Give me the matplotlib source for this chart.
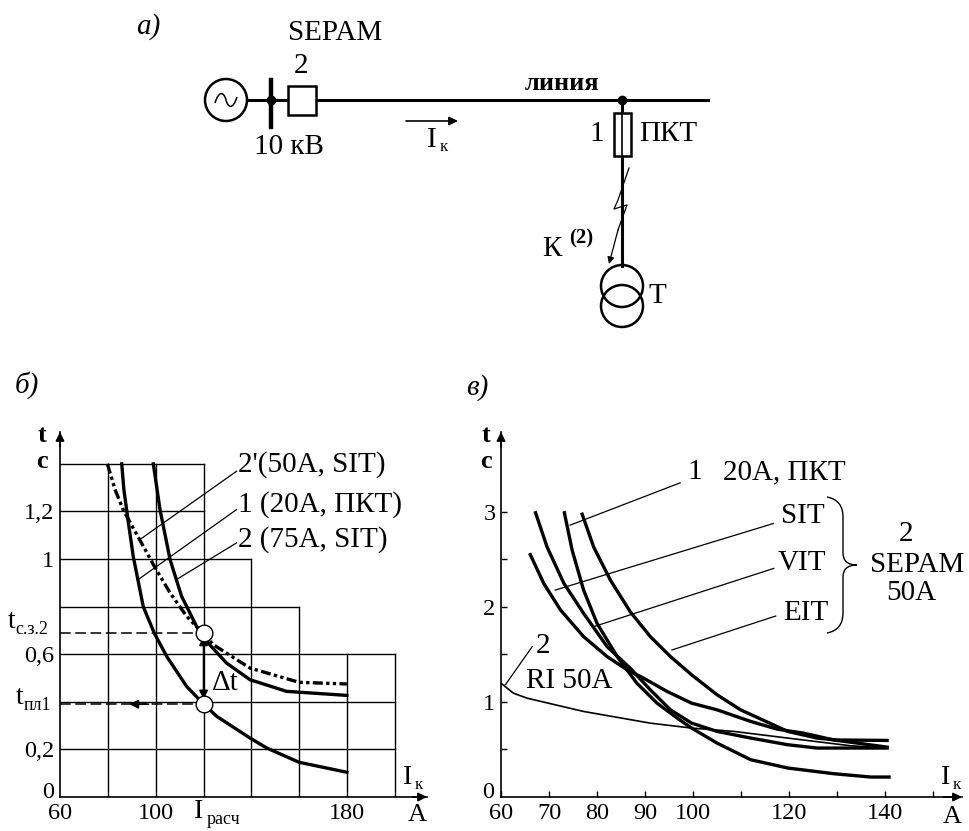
"""Fuse / SEPAM relay coordination: schematic a) and time-current curves b), c)
"""

from matplotlib import pyplot as plt
from matplotlib.patches import Circle, Rectangle, PathPatch
from matplotlib.path import Path

plt.rcParams['font.family'] = ['Liberation Serif', 'DejaVu Serif']

W, H = 969, 831

# chart b) grid, each line runs up to a stepped limit
b_vlines_x = [80, 100, 120, 140, 160, 180, 200]
b_vlines_top = [1.4, 1.4, 1.4, 1.0, 0.8, 0.6, 0.6]
b_hlines_y = [0.2, 0.4, 0.6, 0.8, 1.0, 1.2, 1.4]
b_hlines_end = [200, 200, 200, 160, 140, 120, 120]

# chart b) curves, current in A, time in s
b2_i = [85.8, 86.7, 88.6, 90.6, 94.8, 99.4, 104.6, 112.9, 119.6, 125.5, 139.4, 146.4, 159.9, 179.9]
b2_t = [1.40, 1.292, 1.152, 1.012, 0.80, 0.689, 0.591, 0.465, 0.395, 0.339, 0.248, 0.206, 0.146, 0.104]
b2p_i = [79.8, 83, 86.5, 94.8, 99.4, 106, 112.9, 119.6, 124.1, 139.4, 159.9, 179.9]
b2p_t = [1.40, 1.292, 1.205, 1.054, 0.97, 0.858, 0.76, 0.689, 0.64, 0.542, 0.482, 0.475]
b1_i = [99, 101.8, 106, 110.8, 117.1, 121.3, 129.6, 139.4, 154.7, 179.9]
b1_t = [1.40, 1.208, 0.998, 0.844, 0.717, 0.654, 0.563, 0.493, 0.444, 0.427]

i_calc = 120
t_relay = 0.69
t_fuse = 0.39

# chart c) curves
c1_i = [76.9, 79.3, 82.8, 86.9, 91.1, 95.3, 99.7, 105, 109.9, 119.7, 125.8, 129.8, 140.4]
c1_t = [2.975, 2.63, 2.28, 1.95, 1.687, 1.477, 1.285, 1.075, 0.917, 0.69, 0.62, 0.60, 0.595]
sit_i = [66.1, 68.9, 72.4, 77.2, 82.1, 86.3, 89.7, 94.6, 99.7, 105, 112, 117.5, 123, 129.3, 140.4]
sit_t = [2.55, 2.247, 1.967, 1.687, 1.477, 1.337, 1.25, 1.11, 0.987, 0.917, 0.795, 0.714, 0.672, 0.60, 0.525]
vit_i = [67.2, 69.6, 73.1, 77.2, 82.1, 86.9, 91.1, 95.3, 99.7, 105, 112, 119.7, 125.8, 140.4]
vit_t = [2.99, 2.63, 2.247, 1.932, 1.582, 1.355, 1.127, 0.917, 0.777, 0.69, 0.62, 0.55, 0.515, 0.515]
eit_i = [73.2, 74.8, 77.2, 80, 84.2, 88.3, 92.5, 96.7, 99.7, 105, 112, 119.7, 129.3, 137, 140.8]
eit_t = [2.99, 2.6, 2.177, 1.827, 1.477, 1.197, 0.987, 0.83, 0.725, 0.567, 0.392, 0.305, 0.245, 0.21, 0.21]
ri_i = [60, 62.6, 65.4, 77.2, 91.1, 99.7, 108.5, 119.7, 132.8, 140.4]
ri_t = [1.197, 1.092, 1.04, 0.9, 0.777, 0.725, 0.69, 0.62, 0.539, 0.515]

FS = 21
TICK_FS = 17.5
ARROW = dict(arrowstyle='-|>', color='black', lw=1.2, mutation_scale=13, shrinkA=0, shrinkB=0)


def px_axes(left, right, top, bottom):
    """Axes placed by its pixel box in the picture"""
    return fig.add_axes([left / W, 1 - bottom / H, (right - left) / W, (bottom - top) / H])


def leader(ax, i0, t0, i1, t1, lw=0.9):
    ax.plot([i0, i1], [t0, t1], color='black', lw=lw, zorder=2)


def arrow_px(x0, y0, x1, y1, **kw):
    style = dict(ARROW)
    style.update(kw)
    over.annotate('', xy=(x1, y1), xytext=(x0, y0), arrowprops=style)


def label(x, y, s, size=FS, ha='center', **kw):
    over.text(x, y, s, fontsize=size, ha=ha, va='center', **kw)


fig = plt.figure(figsize=(W / 100, H / 100), dpi=100, facecolor='white')

# chart b)
ax_b = px_axes(60, 427, 432, 797)
ax_b.set_xlim(60, 213.4)
ax_b.set_ylim(0, 1.534)
ax_b.patch.set_alpha(0)
for x, top in zip(b_vlines_x, b_vlines_top):
    ax_b.plot([x, x], [0, top], color='black', lw=1.0, zorder=1)
for y, end in zip(b_hlines_y, b_hlines_end):
    ax_b.plot([60, end], [y, y], color='black', lw=1.0, zorder=1)
ax_b.plot(b2_i, b2_t, color='black', lw=2.4, zorder=3)
ax_b.plot(b1_i, b1_t, color='black', lw=2.4, zorder=3)
ax_b.plot(b2p_i, b2p_t, color='black', lw=2.4, ls=(0, (3, 1, 1, 1, 1, 1)), zorder=3)
leader(ax_b, 93.4, 1.082, 133.8, 1.369)
leader(ax_b, 92.7, 0.914, 133.8, 1.208)
leader(ax_b, 108.7, 0.914, 133.8, 1.068)
ax_b.plot([60, i_calc], [t_relay, t_relay], color='black', lw=1.1, ls=(0, (7, 3)), zorder=2)
ax_b.plot([60, i_calc], [t_fuse, t_fuse], color='black', lw=1.1, ls=(0, (7, 3)), zorder=2)
ax_b.annotate('', xy=(89, t_fuse), xytext=(97, t_fuse), arrowprops=ARROW, zorder=4)
ax_b.annotate('', xy=(i_calc, t_relay - 0.015), xytext=(i_calc, t_fuse + 0.02),
              arrowprops=dict(ARROW, arrowstyle='<|-|>'), zorder=4)
ax_b.plot([i_calc, i_calc], [t_relay, t_fuse], 'o', ms=12, mfc='white', mec='black', mew=1.0, zorder=5)
ax_b.set_xticks([60, 100, 180], ['60', '100', '180'])
ax_b.set_yticks([0.2, 0.6, 1.0, 1.2], ['0,2', '0,6', '1', '1,2'])

# chart c)
ax_c = px_axes(501, 962, 432, 797)
ax_c.set_xlim(60, 156)
ax_c.set_ylim(0, 3.84)
ax_c.patch.set_alpha(0)
for xs, ts in [(c1_i, c1_t), (sit_i, sit_t), (vit_i, vit_t), (eit_i, eit_t)]:
    ax_c.plot(xs, ts, color='black', lw=2.4, zorder=3)
ax_c.plot(ri_i, ri_t, color='black', lw=1.2, zorder=3)
leader(ax_c, 74.4, 2.86, 97.3, 3.305)
leader(ax_c, 71.3, 2.177, 116.7, 2.877)
leader(ax_c, 79.3, 1.792, 116.8, 2.405)
leader(ax_c, 95.6, 1.547, 117.2, 1.904)
leader(ax_c, 60.9, 1.18, 66.5, 1.582)
ax_c.set_xticks(list(range(60, 151, 10)), ['60', '70', '80', '90', '100', '', '120', '', '140', ''])
ax_c.set_yticks([0.5, 1, 1.5, 2, 2.5, 3], ['', '1', '', '2', '', '3'])

for ax in [ax_b, ax_c]:
    ax.spines['top'].set_visible(False)
    ax.spines['right'].set_visible(False)
    ax.spines['left'].set_linewidth(1.2)
    ax.spines['bottom'].set_linewidth(1.2)
    ax.tick_params(labelsize=TICK_FS, pad=4)
    ax.annotate('', xy=(1, 0), xytext=(0.96, 0), xycoords='axes fraction', textcoords='axes fraction',
                arrowprops=ARROW, annotation_clip=False)
    ax.annotate('', xy=(0, 1), xytext=(0, 0.96), xycoords='axes fraction', textcoords='axes fraction',
                arrowprops=ARROW, annotation_clip=False)
ax_b.tick_params(length=0)
ax_c.tick_params(direction='in', length=4, width=1.0)

# overlay in picture pixels: schematic and free labels
over = fig.add_axes([0, 0, 1, 1])
over.set_xlim(0, W)
over.set_ylim(H, 0)
over.axis('off')
over.patch.set_alpha(0)

# schematic a)
over.plot([247, 708], [100, 100], color='black', lw=2.2)
over.plot([271, 271], [80, 127], color='black', lw=3.2)
over.plot([622, 622], [100, 266], color='black', lw=2.2)
over.add_patch(Circle((226, 100), 21, fc='white', ec='black', lw=1.8, zorder=3))
over.add_patch(Rectangle((288, 86), 28, 29, fc='white', ec='black', lw=1.8, zorder=3))
over.add_patch(Rectangle((614, 113), 17, 43, fc='white', ec='black', lw=1.8, zorder=3))
over.plot([622, 622], [113, 156], color='black', lw=1.2, zorder=4)
over.plot([271, 622], [100, 100], 'o', color='black', ms=6, zorder=4)
over.add_patch(Circle((622, 286), 21, fc='none', ec='black', lw=1.8, zorder=3))
over.add_patch(Circle((622, 306), 21, fc='none', ec='black', lw=1.8, zorder=3))
wave = Path([(215, 103), (219, 90), (224, 92), (226, 100), (228, 108), (233, 110), (237, 97)],
            [Path.MOVETO, Path.CURVE4, Path.CURVE4, Path.CURVE4, Path.CURVE4, Path.CURVE4, Path.CURVE4])
over.add_patch(PathPatch(wave, fc='none', ec='black', lw=1.1, zorder=4))
over.plot([629, 618, 614, 627, 618], [168, 200, 209, 205, 230], color='black', lw=0.9, zorder=4)
arrow_px(618, 230, 609, 264, lw=0.9, mutation_scale=10)
arrow_px(406, 121, 458, 121)

label(148, 27, 'а)', style='italic')
label(335, 33, 'SEPAM')
label(301, 66, '2')
label(562, 84, 'линия', size=19, weight='bold')
label(289, 147, '10 кВ')
label(432, 140, 'I')
label(444, 147, 'к', size=12)
label(597, 134, '1')
label(668, 134, 'ПКТ')
label(552, 249, 'К')
label(581, 238, '(2)', size=15, weight='bold')
label(657, 296, 'Т')

# labels of chart b)
label(27, 385, 'б)', style='italic')
label(42, 436, 't', size=19, weight='bold')
label(42, 461, 'с', size=19, weight='bold')
label(238, 465, "2'(50А, SIT)", ha='left')
label(238, 505, '1 (20А, ПКТ)', ha='left')
label(238, 540, '2 (75А, SIT)', ha='left')
label(48, 793, '0', size=TICK_FS)
label(12, 622, 't', size=20)
label(32, 630, 'с.з.2', size=13)
label(20, 698, 't', size=20)
label(38, 706, 'пл1', size=13)
label(225, 683, 'Δt')
label(199, 812, 'I', size=20)
label(223, 819, 'расч', size=13)
label(408, 777, 'I', size=20)
label(419, 785, 'к', size=12)
label(417, 815, 'А', size=19)

# labels of chart c)
label(477, 388, 'в)', style='italic')
label(486, 436, 't', size=19, weight='bold')
label(486, 461, 'с', size=19, weight='bold')
label(488, 793, '0', size=TICK_FS)
label(695, 472, '1')
label(723, 472, '20А, ПКТ', ha='left')
label(803, 516, 'SIT')
label(802, 563, 'VIT')
label(806, 613, 'EIT')
label(906, 534, '2')
label(917, 565, 'SEPAM')
label(911, 593, '50А')
label(543, 646, '2')
label(569, 681, 'RI 50А')
label(946, 777, 'I', size=20)
label(957, 785, 'к', size=12)
label(952, 817, 'А', size=19)

brace = Path([(827, 497), (843, 500), (843, 517), (843, 553), (843, 565), (857, 565),
              (843, 565), (843, 577), (843, 613), (843, 630), (827, 633)],
             [Path.MOVETO, Path.CURVE3, Path.CURVE3, Path.LINETO, Path.CURVE3, Path.CURVE3,
              Path.CURVE3, Path.CURVE3, Path.LINETO, Path.CURVE3, Path.CURVE3])
over.add_patch(PathPatch(brace, fc='none', ec='black', lw=1.0))

fig.savefig('out.png', dpi=100)
